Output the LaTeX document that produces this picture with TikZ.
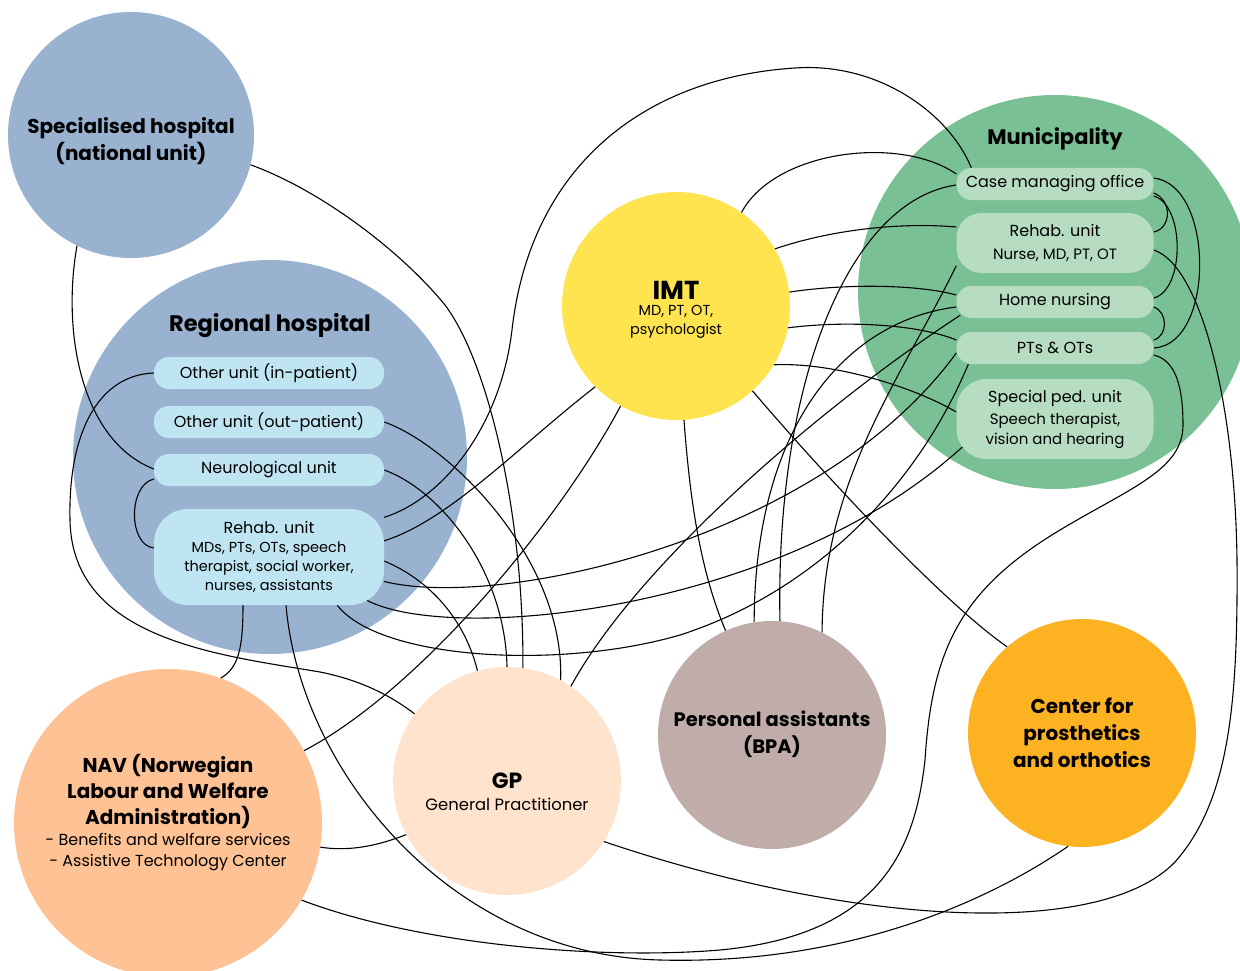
\documentclass[tikz,border=0pt]{standalone}
\usepackage{fontspec}
\setmainfont{Poppins}
\usepackage{tikz}
\pgfdeclarelayer{circles}
\pgfdeclarelayer{links}
\pgfsetlayers{circles,links,main}
\definecolor{hospblue}{RGB}{152,178,208}
\definecolor{unitblue}{RGB}{191,228,242}
\definecolor{imtyellow}{RGB}{255,228,79}
\definecolor{mungreen}{RGB}{121,193,148}
\definecolor{unitgreen}{RGB}{182,220,193}
\definecolor{taupe}{RGB}{192,173,170}
\definecolor{amber}{RGB}{253,178,33}
\definecolor{peach}{RGB}{254,194,148}
\definecolor{cream}{RGB}{255,227,205}
\tikzstyle{org} = [circle, inner sep=0pt, draw=none]
\tikzstyle{unit} = [rectangle, rounded corners=15pt, minimum height=32pt, inner sep=0pt, align=center]
\tikzstyle{title} = [align=center, font=\fontsize{20}{27}\selectfont\bfseries]
\tikzstyle{sub} = [align=center, font=\fontsize{14.5}{19}\selectfont]
\tikzstyle{link} = [line width=1.1pt, black]

\begin{document}
\begin{tikzpicture}[x=1pt, y=-1pt, font=\fontsize{16}{20}\selectfont]
     \useasboundingbox (0, 0) rectangle (1240, 971);
     \begin{pgfonlayer}{circles}
     \fill[white] (0, 0) rectangle (1240, 971);
     \node (spec) at (131, 135) [org, minimum size=246pt, fill=hospblue] {};
     \node (reg) at (270, 457) [org, minimum size=394pt, fill=hospblue] {};
     \node (imt) at (676, 306) [org, minimum size=228pt, fill=imtyellow] {};
     \node (mun) at (1055, 292) [org, minimum size=394pt, fill=mungreen] {};
     \node (pa) at (772, 735) [org, minimum size=228pt, fill=taupe] {};
     \node (prosth) at (1082, 733) [org, minimum size=228pt, fill=amber] {};
     \node (nav) at (168, 823) [org, minimum size=308pt, fill=peach] {};
     \node (gp) at (507, 781) [org, minimum size=228pt, fill=cream] {};
     \end{pgfonlayer}

     \node (spec-txt) at (131, 141) [title] {Specialised hospital\\(national unit)};
     \node (reg-txt) at (270, 326) [title, font=\fontsize{22.5}{27}\selectfont\bfseries] {Regional hospital};
     \node (inpat) at (269, 373) [unit, minimum width=230pt, fill=unitblue] {Other unit (in-patient)};
     \node (outpat) at (269, 422) [unit, minimum width=230pt, fill=unitblue] {Other unit (out-patient)};
     \node (neuro) at (269, 470) [unit, minimum width=230pt, fill=unitblue] {Neurological unit};
     \node (rehab) at (269, 557) [unit, rounded corners=34pt, minimum width=230pt, minimum height=96pt, fill=unitblue]
           {Rehab. unit\\[-1pt]{\fontsize{14.5}{19.5}\selectfont MDs, PTs, OTs, speech}\\[-1pt]{\fontsize{14.5}{19.5}\selectfont therapist, social worker,}\\[-1pt]{\fontsize{14.5}{19.5}\selectfont nurses, assistants}};

     \node (imt-ttl) at (676, 290) [font=\fontsize{26}{28}\selectfont\bfseries] {IMT};
     \node (imt-sub) at (676, 322) [sub] {MD, PT, OT,\\psychologist};

     \node (mun-txt) at (1055, 139) [title, font=\fontsize{21}{27}\selectfont\bfseries] {Municipality};
     \node (cmo) at (1055, 184) [unit, minimum width=197pt, fill=unitgreen] {Case managing office};
     \node (mrehab) at (1055, 243) [unit, rounded corners=25pt, minimum width=197pt, minimum height=60pt, fill=unitgreen]
           {Rehab. unit\\[3pt]{\fontsize{15}{19}\selectfont Nurse, MD, PT, OT}};
     \node (home) at (1055, 302) [unit, minimum width=197pt, fill=unitgreen] {Home nursing};
     \node (ptot) at (1055, 348) [unit, minimum width=197pt, fill=unitgreen] {PTs \& OTs};
     \node (sped) at (1055, 419) [unit, rounded corners=30pt, minimum width=197pt, minimum height=80pt, fill=unitgreen]
           {Special ped. unit\\[2pt]{\fontsize{15}{19}\selectfont Speech therapist,}\\{\fontsize{15}{19}\selectfont vision and hearing}};

     \node (nav-ttl) at (168, 791) [title, font=\fontsize{20}{26}\selectfont\bfseries] {NAV (Norwegian\\Labour and Welfare\\Administration)};
     \node (nav-sub) at (168, 852) [align=center, font=\fontsize{16}{21}\selectfont] {- Benefits and welfare services\\- Assistive Technology Center};
     \node (gp-ttl) at (507, 781) [font=\fontsize{22}{26}\selectfont\bfseries] {GP};
     \node (gp-sub) at (507, 804) [font=\fontsize{16.4}{20}\selectfont] {General Practitioner};
     \node (pa-txt) at (772, 734) [title, font=\fontsize{19.5}{27}\selectfont\bfseries] {Personal assistants\\(BPA)};
     \node (prosth-txt) at (1082, 733) [title] {Center for\\prosthetics\\and orthotics};

     \begin{pgfonlayer}{links}
     \draw[link] (spec.-14) .. controls (320, 190) and (400, 250) .. (445, 305) .. controls (490, 365) and (524, 520) .. (gp.82);
     \draw[link] (spec.244) .. controls (62, 330) and (80, 440) .. ([yshift=1pt]neuro.west);
     \draw[link] (inpat.west) .. controls (100, 375) and (68, 430) .. (70, 520) .. controls (72, 640) and (220, 655) .. (320, 672) .. controls (360, 680) and (390, 695) .. (gp.144);
     \draw[link] ([yshift=-9pt]neuro.west) .. controls (128, 485) and (128, 545) .. ([yshift=9pt]rehab.west);
     \draw[link] (outpat.east) .. controls (450, 445) and (565, 560) .. (gp.62);
     \draw[link] (neuro.east) .. controls (440, 490) and (505, 570) .. (gp.90);
     \draw[link] (rehab.19) .. controls (440, 500) and (500, 430) .. (512, 330) .. controls (530, 170) and (640, 78) .. (795, 68) .. controls (880, 62) and (950, 115) .. ([xshift=15pt]cmo.north west);
     \draw[link] (imt.55) .. controls (775, 150) and (900, 135) .. ([yshift=10pt]cmo.west);
     \draw[link] ([yshift=-1pt]cmo.west) .. controls (850, 200) and (775, 380) .. (pa.86);
     \draw[link] (imt.30) .. controls (830, 230) and (900, 222) .. ([yshift=16pt]mrehab.west);
     \draw[link] (mrehab.193) .. controls (900, 380) and (823, 480) .. (pa.64);
     \draw[link] (imt.7) .. controls (850, 283) and (920, 285) .. ([yshift=7pt]home.west);
     \draw[link] ([yshift=-5pt]home.west) .. controls (850, 320) and (755, 420) .. (pa.99);
     \draw[link] (gp.56) .. controls (640, 560) and (830, 400) .. ([xshift=4pt, yshift=3pt]home.south west);
     \draw[link] (imt.-11) .. controls (850, 320) and (920, 325) .. ([yshift=8pt]ptot.west);
     \draw[link] (rehab.-12) .. controls (500, 610) and (820, 540) .. ([yshift=-5pt]ptot.west);
     \draw[link] (imt.-31) .. controls (830, 362) and (910, 385) .. ([yshift=7pt]sped.west);
     \draw[link] ([xshift=-21pt, yshift=7pt]rehab.south east) .. controls (440, 645) and (780, 615) .. ([xshift=8pt, yshift=14pt]sped.south west);
     \draw[link] ([xshift=-47pt]rehab.south east) .. controls (380, 660) and (560, 670) .. (680, 635) .. controls (820, 590) and (920, 480) .. ([xshift=12pt]ptot.south west);
     \draw[link] (imt.-86) .. controls (690, 500) and (700, 570) .. (pa.114);
     \draw[link] (imt.-48) .. controls (820, 470) and (940, 600) .. (prosth.131);
     \draw[link] (imt.241) .. controls (560, 520) and (420, 690) .. (nav.28);
     \draw[link] (imt.225) .. controls (520, 445) and (450, 520) .. (rehab.8);
     \draw[link] (rehab.-2) .. controls (430, 580) and (465, 620) .. (gp.105);
     \draw[link] ([xshift=-26pt]rehab.south) .. controls (243, 650) and (238, 668) .. (nav.70);
     \draw[link] ([xshift=17pt]rehab.south) .. controls (300, 770) and (450, 955) .. (660, 960) .. controls (850, 965) and (990, 900) .. (prosth.-97);
     \draw[link] (nav.-30) .. controls (420, 945) and (600, 960) .. (720, 950) .. controls (880, 935) and (915, 850) .. (925, 760) .. controls (932, 650) and (960, 590) .. (1060, 530) .. controls (1130, 488) and (1183, 470) .. (1183, 425) .. controls (1183, 385) and (1175, 360) .. ([yshift=-7pt]ptot.east);
     \draw[link] ([yshift=-7pt]mrehab.east) .. controls (1200, 265) and (1235, 400) .. (1237, 560) .. controls (1238, 700) and (1230, 800) .. (1175, 862) .. controls (1100, 940) and (850, 925) .. (gp.-32);
     \draw[link] ([yshift=6pt]cmo.east) .. controls (1215, 185) and (1215, 345) .. (ptot.east);
     \draw[link] ([yshift=-9pt]cmo.east) .. controls (1172, 200) and (1172, 228) .. ([yshift=11pt]mrehab.east);
     \draw[link] ([yshift=-12pt]cmo.east) .. controls (1185, 205) and (1185, 290) .. ([yshift=4pt]home.east);
     \draw[link] ([yshift=-5pt]home.east) .. controls (1168, 312) and (1168, 336) .. ([yshift=8pt]ptot.east);
     \draw[link] (gp.208) .. controls (380, 845) and (350, 852) .. (nav.-9);
     \end{pgfonlayer}
   \end{tikzpicture}
\end{document}
